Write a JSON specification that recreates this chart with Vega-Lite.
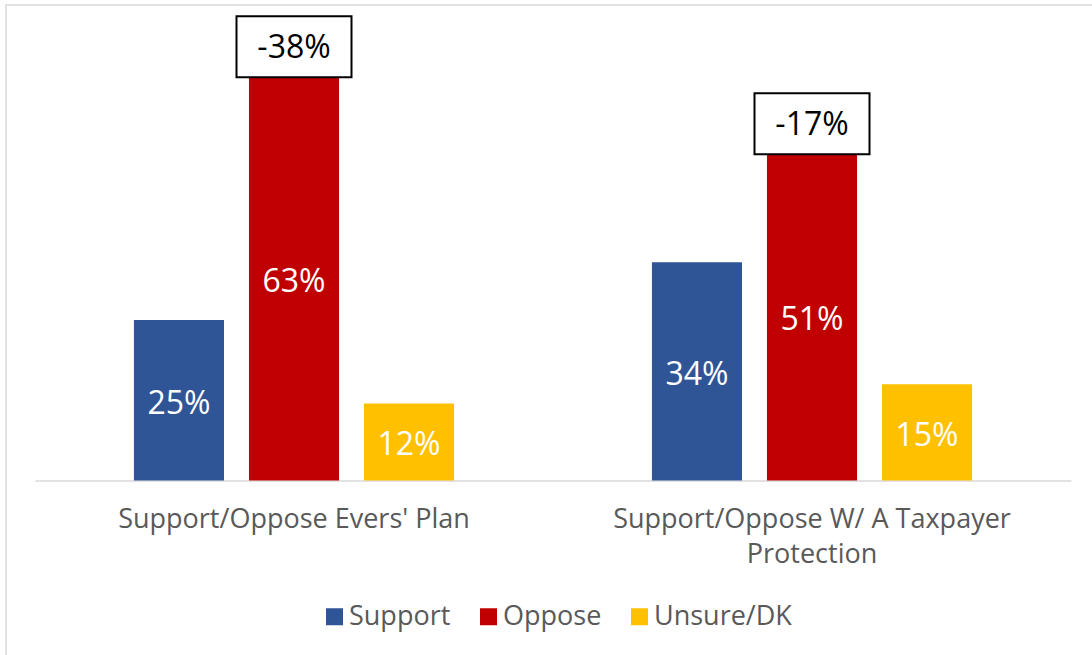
{
  "$schema": "https://vega.github.io/schema/vega-lite/v6.json",
  "width": 1100,
  "height": 660,
  "autosize": {"type": "none"},
  "padding": {"left": 6, "top": 5, "right": 0, "bottom": 0},
  "background": "white",
  "config": {"view": {"stroke": "#d9d9d9", "strokeWidth": 1.5}, "font": "Open Sans"},
  "data": {"values": [
    {"q": "Support/Oppose Evers' Plan", "s": "Support", "v": 25, "label": "25%"},
    {"q": "Support/Oppose Evers' Plan", "s": "Oppose", "v": 63, "label": "63%", "net": "-38%"},
    {"q": "Support/Oppose Evers' Plan", "s": "Unsure/DK", "v": 12, "label": "12%"},
    {"q": "Support/Oppose W/ A Taxpayer Protection", "s": "Support", "v": 34, "label": "34%"},
    {"q": "Support/Oppose W/ A Taxpayer Protection", "s": "Oppose", "v": 51, "label": "51%", "net": "-17%"},
    {"q": "Support/Oppose W/ A Taxpayer Protection", "s": "Unsure/DK", "v": 15, "label": "15%"}
  ]},
  "encoding": {
    "x": {
      "field": "q", "type": "nominal", "sort": null,
      "scale": {"range": [29, 1065], "paddingInner": 0, "paddingOuter": 0},
      "axis": {
        "title": null, "ticks": false, "domainColor": "#d9d9d9", "domainWidth": 1.5,
        "labelFontSize": 27, "labelColor": "#595959", "labelFont": "Open Sans",
        "labelPadding": 26, "labelLimit": 0, "labelAngle": 0, "offset": -184.5,
        "labelLineHeight": 35,
        "labelExpr": "datum.value == 'Support/Oppose W/ A Taxpayer Protection' ? ['Support/Oppose W/ A Taxpayer', 'Protection'] : datum.value"
      }
    },
    "xOffset": {
      "field": "s", "type": "nominal", "sort": ["Support", "Oppose", "Unsure/DK"],
      "scale": {"paddingInner": 0.217, "paddingOuter": 0.86}
    }
  },
  "layer": [
    {
      "mark": {"type": "bar"},
      "encoding": {
        "y": {"field": "v", "type": "quantitative", "scale": {"domain": [-28.74, 74.06], "nice": false, "zero": false}, "axis": null},
        "y2": {"datum": 0},
        "color": {
          "field": "s", "type": "nominal",
          "scale": {"domain": ["Support", "Oppose", "Unsure/DK"], "range": ["#2F5597", "#C00000", "#FFC000"]},
          "legend": {
            "orient": "none", "legendX": 315, "legendY": 598, "direction": "horizontal", "title": null,
            "symbolType": "square", "symbolSize": 289, "symbolStrokeWidth": 0, "symbolOpacity": 1,
            "labelFontSize": 27, "labelColor": "#595959", "labelFont": "Open Sans",
            "columnPadding": 24, "labelOffset": 1, "padding": 0
          }
        }
      }
    },
    {
      "mark": {"type": "text", "color": "white", "fontSize": 32, "font": "Open Sans", "dy": 3.5},
      "encoding": {
        "y": {"field": "v", "type": "quantitative", "scale": {"domain": [-57.48, 148.12], "nice": false, "zero": false}, "axis": null},
        "text": {"field": "label"}
      }
    },
    {
      "transform": [{"filter": "datum.net"}],
      "mark": {"type": "point", "shape": "M-1,-1.04L1,-1.04L1,0.02L-1,0.02Z", "filled": true, "fill": "white", "stroke": "black", "strokeWidth": 2, "size": 13225, "opacity": 1},
      "encoding": {
        "y": {"field": "v", "type": "quantitative", "scale": {"domain": [-28.74, 74.06], "nice": false, "zero": false}, "axis": null}
      }
    },
    {
      "transform": [{"filter": "datum.net"}],
      "mark": {"type": "text", "color": "black", "fontSize": 32, "font": "Open Sans", "dy": -28},
      "encoding": {
        "y": {"field": "v", "type": "quantitative", "scale": {"domain": [-28.74, 74.06], "nice": false, "zero": false}, "axis": null},
        "text": {"field": "net"}
      }
    }
  ],
  "resolve": {"scale": {"y": "independent"}}
}
